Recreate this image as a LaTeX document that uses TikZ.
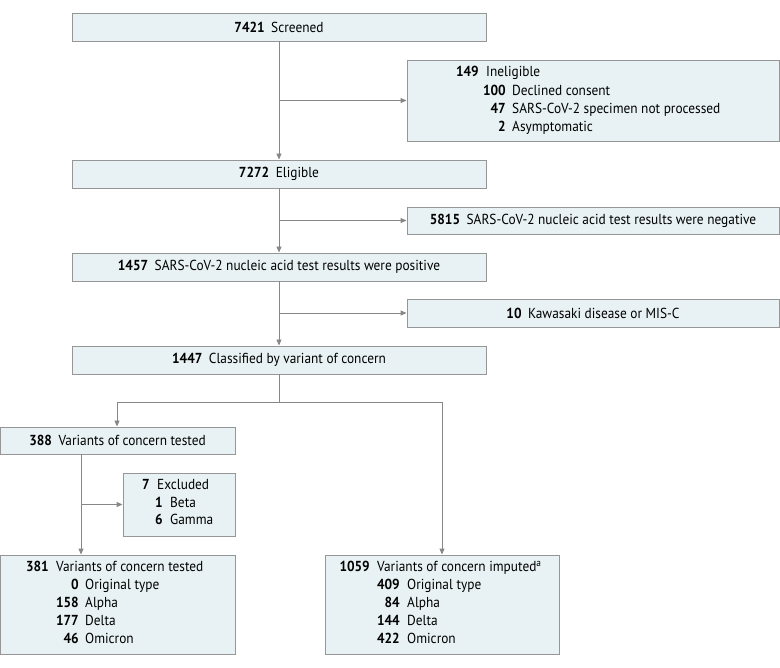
\documentclass[tikz,border=0pt]{standalone}
\usepackage{fontspec}
\setmainfont{PT Sans}[FakeStretch=0.92]
\usetikzlibrary{arrows.meta}
\definecolor{boxfill}{RGB}{232,242,244}
\definecolor{boxline}{RGB}{150,150,150}
\definecolor{conn}{RGB}{135,135,135}
\newcommand\bx[6]{%
  \pgfmathsetmacro\cx{(#2+#4)/2}\pgfmathsetmacro\cy{(#3+#5)/2}%
  \pgfmathsetmacro\ww{#4-#2}\pgfmathsetmacro\hh{#5-#3}%
  \node[flowbox,minimum width=\ww pt,minimum height=\hh pt] (#1) at (\cx,\cy) {#6};}
\newcommand\entry[6]{%
  \node[txt,anchor=mid east] (#1n) at (#2,#4) {\textbf{#5}};
  \node[txt,anchor=mid west] (#1t) at (#3,#4) {#6};}
\newcommand\nm[1]{\textbf{#1}\hspace{0.45em}}
\begin{document}
\begin{tikzpicture}[x=1pt,y=-1pt,
  flowbox/.style={draw=boxline,fill=boxfill,line width=0.9pt,inner sep=0pt,font=\fontsize{14.5}{16}\selectfont},
  txt/.style={inner sep=0pt,font=\fontsize{14.5}{16}\selectfont},
  conn/.style={draw=conn,line width=0.9pt},
  arr/.style={conn,-{Triangle[length=6pt,width=5pt]}}]
\useasboundingbox (0,0) rectangle (780,668);
% boxes
\bx{scr}{72}{13}{486}{41}{\nm{7421}Screened}
\bx{inel}{407}{60}{779}{141}{}
\bx{elig}{72}{160}{486}{188}{\nm{7272}Eligible}
\bx{neg}{407}{207}{779}{234}{\nm{5815}SARS-CoV-2 nucleic acid test results were negative}
\bx{pos}{72}{253}{486}{281}{\nm{1457}SARS-CoV-2 nucleic acid test results were positive}
\bx{kaw}{407}{299}{779}{327}{\nm{10}Kawasaki disease or MIS-C}
\bx{cls}{72}{346}{486}{374}{\nm{1447}Classified by variant of concern}
\bx{tst}{0}{427}{235}{454}{\nm{388}Variants of concern tested}
\bx{exc}{123}{473}{235}{536}{}
\bx{tst2}{0}{555}{235}{654}{}
\bx{imp}{325}{555}{559}{654}{}
% multi-line texts
\entry{ia}{479}{486}{74}{149}{Ineligible}
\entry{ib}{506}{512}{93}{100}{Declined consent}
\entry{ic}{506}{512}{111}{47}{SARS-CoV-2 specimen not processed}
\entry{id}{506}{512}{129}{2}{Asymptomatic}
\entry{ea}{150}{157}{487}{7}{Excluded}
\entry{eb}{163}{170}{505}{1}{Beta}
\entry{ec}{163}{170}{522}{6}{Gamma}
\entry{ta}{49}{56}{569}{381}{Variants of concern tested}
\entry{tb}{79}{85}{587}{0}{Original type}
\entry{tc}{79}{85}{605}{158}{Alpha}
\entry{td}{79}{85}{623}{177}{Delta}
\entry{te}{79}{85}{641}{46}{Omicron}
\entry{ma}{370}{377}{569}{1059}{Variants of concern imputed\textsuperscript{a}}
\entry{mb}{400}{407}{587}{409}{Original type}
\entry{mc}{400}{407}{605}{84}{Alpha}
\entry{md}{400}{407}{623}{144}{Delta}
\entry{me}{400}{407}{641}{422}{Omicron}
% connectors
\coordinate (b1) at (scr.south|-inel.west);
\draw[arr] (scr.south) -- (elig.north);
\draw[arr] (b1) -- (inel.west);
\coordinate (b2) at (elig.south|-neg.west);
\draw[arr] (elig.south) -- (pos.north);
\draw[arr] (b2) -- (neg.west);
\coordinate (b3) at (pos.south|-kaw.west);
\draw[arr] (pos.south) -- (cls.north);
\draw[arr] (b3) -- (kaw.west);
\coordinate (sp) at (279,402);
\coordinate (spl) at (117,402);
\coordinate (spr) at (442,402);
\draw[conn] (cls.south) -- (sp);
\draw[arr] (sp) -- (spl) -- (tst.north-|spl);
\draw[arr] (sp) -- (spr) -- (imp.north-|spr);
\coordinate (tb) at (81,454);
\coordinate (b4) at (81,504.5);
\draw[arr] (tb) -- (tst2.north-|tb);
\draw[arr] (b4) -- (exc.west);
\end{tikzpicture}
\end{document}
